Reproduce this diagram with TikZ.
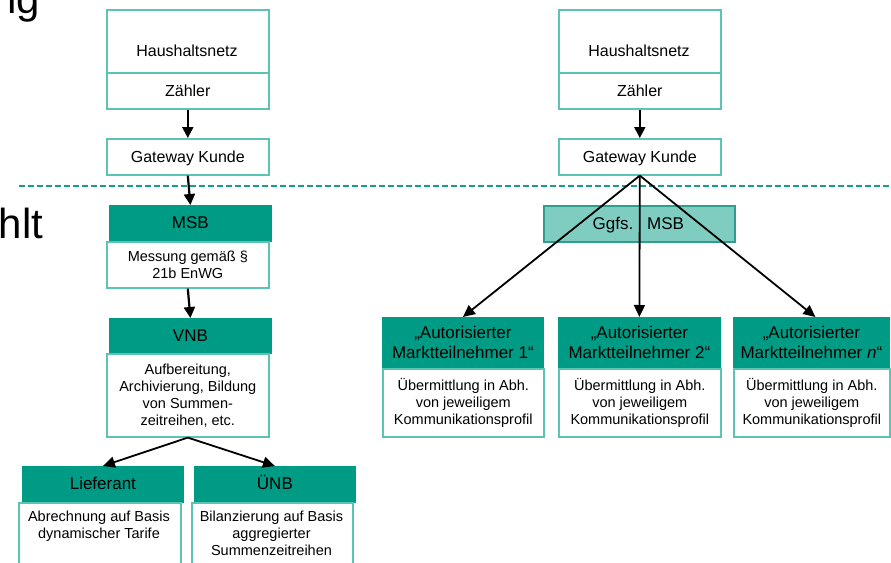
\documentclass[tikz,border=0pt]{standalone}
\usepackage{fontspec}
\setmainfont{Liberation Sans}
\usetikzlibrary{arrows.meta}

\definecolor{tealfill}{RGB}{0,155,132}
\definecolor{boxline}{RGB}{92,196,180}
\definecolor{dashline}{RGB}{26,158,140}
\definecolor{optfill}{RGB}{127,205,193}
\definecolor{optline}{RGB}{46,159,142}

\newcommand\netzfont{\fontsize{16}{18}\selectfont}
\newcommand\headfont{\fontsize{17}{20}\selectfont}
\newcommand\smallfont{\fontsize{14.5}{17}\selectfont}
\newcommand\cutfont{\fontsize{42}{48}\selectfont}

\begin{document}
\begin{tikzpicture}[x=1pt,y=-1pt,
  frame/.style={draw=boxline, line width=1.6pt, fill=white, inner sep=0pt,
    anchor=north west, align=center, text=black},
  headbox/.style={fill=tealfill, draw=tealfill, line width=0.8pt, inner sep=0pt,
    anchor=north west, align=center, font=\headfont, text=black},
  optbox/.style={fill=optfill, draw=optline, line width=1.5pt, inner sep=0pt,
    anchor=north west},
  oneline/.style={text height=11.8pt, text depth=1.2pt},
  label/.style={inner sep=0pt, align=center, text=black},
  flow/.style={draw=black, line width=2.2pt, -{Triangle[width=11pt,length=11pt]}},
  fan/.style={draw=black, line width=1.8pt, -{Triangle[width=11pt,length=12pt]}},
  sep/.style={draw=dashline, line width=2pt, dash pattern=on 6pt off 3pt}
]
\useasboundingbox (0,0) rectangle (891,562);
\clip (0,0) rectangle (891,562);

% partial heading words at the left margin
\node[inner sep=0pt, anchor=base east, font=\cutfont] (cutA) at (40,13.5) {ng};
\node[inner sep=0pt, anchor=base west, font=\cutfont] (cutB) at (-1.5,238) {hlt};

% separator line
\coordinate (sepL) at (19,186);
\coordinate (sepR) at (891,186);
\draw[sep] (sepL) -- (sepR);

% ---------- left column ----------
\node[frame, minimum width=162pt, minimum height=63pt] (hausL) at (106,9) {};
\node[label, oneline, font=\netzfont] (hausLt) at (187,51.5) {Haushaltsnetz};
\node[frame, oneline, minimum width=162pt, minimum height=36pt, font=\netzfont] (zaehlL) at (106,72) {Zähler};
\node[frame, oneline, minimum width=162pt, minimum height=36pt, font=\netzfont] (gateL) at (106,138) {Gateway Kunde};

\node[headbox, oneline, minimum width=162pt, minimum height=36pt] (msbL) at (109,205) {MSB};
\node[frame, minimum width=162pt, minimum height=46pt, font=\smallfont] (messL) at (106,241) {Messung gemäß §\\21b EnWG};

\node[headbox, oneline, minimum width=162pt, minimum height=35pt] (vnbL) at (109,318) {VNB};
\node[frame, minimum width=162pt, minimum height=83pt, font=\smallfont] (vnbT) at (106,353)
  {Aufbereitung,\\Archivierung, Bildung\\von Summen-\\zeitreihen, etc.};

\node[headbox, oneline, minimum width=161pt, minimum height=36pt] (liefH) at (22,466) {Lieferant};
\node[frame, minimum width=162pt, minimum height=100pt] (liefT) at (18,502) {};
\node[label, anchor=north, font=\smallfont] (liefTx) at (99,511) {Abrechnung auf Basis\\dynamischer Tarife};

\node[headbox, oneline, minimum width=161pt, minimum height=36pt] (uenbH) at (194,466) {ÜNB};
\node[frame, minimum width=161pt, minimum height=100pt] (uenbT) at (191,502) {};
\node[label, anchor=north, font=\smallfont] (uenbTx) at (271.5,511) {Bilanzierung auf Basis\\aggregierter\\Summenzeitreihen};

\draw[flow] (zaehlL.south) -- (gateL.north);
\draw[flow] (gateL.south) -- (msbL.north);
\draw[flow] (messL.south) -- (vnbL.north);
\draw[fan] (vnbT.south) -- (liefH.north);
\draw[fan] (vnbT.south) -- (uenbH.north);

% ---------- right column ----------
\node[frame, minimum width=162pt, minimum height=63pt] (hausR) at (558,9) {};
\node[label, oneline, font=\netzfont] (hausRt) at (639,51.5) {Haushaltsnetz};
\node[frame, oneline, minimum width=162pt, minimum height=36pt, font=\netzfont] (zaehlR) at (558,72) {Zähler};
\node[frame, oneline, minimum width=162pt, minimum height=36pt, font=\netzfont] (gateR) at (558,138) {Gateway Kunde};

\node[optbox, minimum width=191pt, minimum height=36pt] (optMSB) at (543,205) {};

\node[headbox, minimum width=161pt, minimum height=51pt] (am1H) at (382,317)
  {„Autorisierter\\Marktteilnehmer 1“};
\node[frame, minimum width=161pt, minimum height=68pt, font=\smallfont] (am1T) at (382,368)
  {Übermittlung in Abh.\\von jeweiligem\\Kommunikationsprofil};

\node[headbox, minimum width=162pt, minimum height=51pt] (am2H) at (558,317)
  {„Autorisierter\\Marktteilnehmer 2“};
\node[frame, minimum width=162pt, minimum height=68pt, font=\smallfont] (am2T) at (558,368)
  {Übermittlung in Abh.\\von jeweiligem\\Kommunikationsprofil};

\node[headbox, minimum width=156pt, minimum height=51pt] (am3H) at (733,317)
  {„Autorisierter\\Marktteilnehmer \textit{n}“};
\node[frame, minimum width=156pt, minimum height=68pt, font=\smallfont] (am3T) at (733,368)
  {Übermittlung in Abh.\\von jeweiligem\\Kommunikationsprofil};

\draw[flow] (zaehlR.south) -- (gateR.north);
\draw[fan] (gateR.south) -- (am1H.north);
\draw[fan] (gateR.south) -- (am2H.north);
\draw[fan] (gateR.south) -- ([xshift=4pt]am3H.north);

\node[label, anchor=base, font=\headfont] (optA) at (613,229) {Ggfs.};
\node[label, anchor=base, font=\headfont] (optB) at (665.5,229) {MSB};
\end{tikzpicture}
\end{document}
